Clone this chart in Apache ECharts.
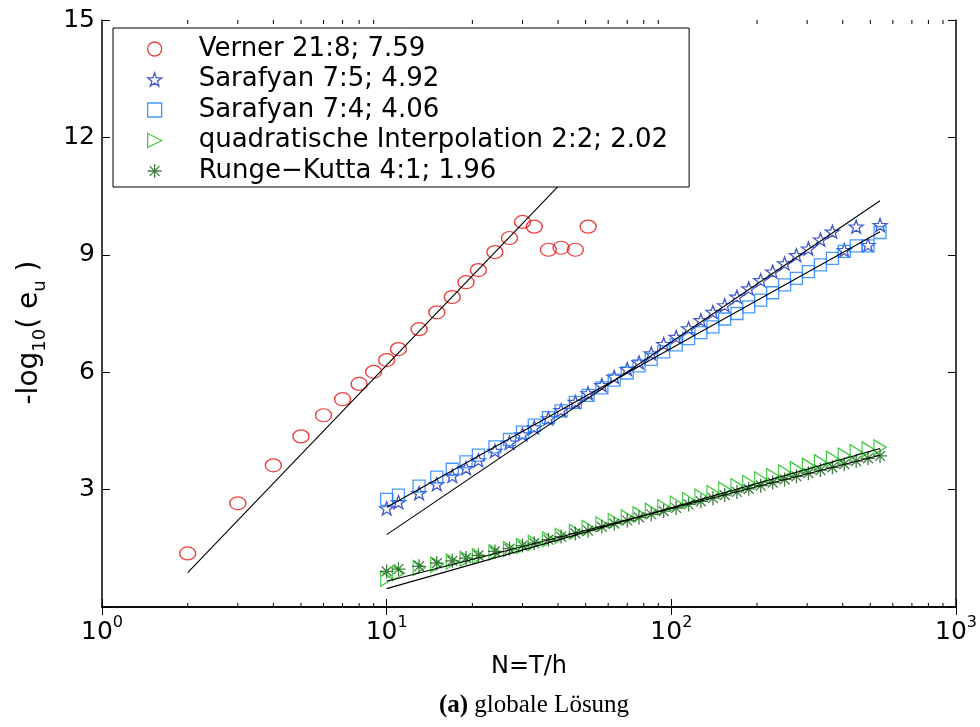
<!DOCTYPE html>
<html>
<head>
<meta charset="utf-8">
<script src="https://cdn.jsdelivr.net/npm/echarts@6/dist/echarts.min.js"></script>
<style>
  html, body { margin: 0; padding: 0; background: #fff; }
  #main { width: 980px; height: 727px; }
</style>
</head>
<body>
<div id="main"></div>
<script>
// Schrittzahlen N = T/h
var nVerner = [2, 3, 4, 5, 6, 7, 8, 9, 10, 11, 13, 15, 17, 19, 21, 24, 27, 30, 33, 37, 41, 46, 51];
var nSteps = [10, 11, 13, 15, 17, 19, 21, 24, 27, 30, 33, 37, 41, 46, 51, 57, 63, 70, 77, 85,
  94, 104, 115, 127, 140, 154, 170, 187, 206, 227, 250, 275, 303, 334, 368, 405, 446, 491, 541];

// -log10(e_u)
var eVerner = [1.37, 2.65, 3.62, 4.36, 4.90, 5.31, 5.70, 6.01, 6.31, 6.59, 7.10, 7.53, 7.92, 8.30,
  8.61, 9.07, 9.43, 9.84, 9.72, 9.13, 9.18, 9.13, 9.72];
var eSaraf75 = [2.52, 2.68, 2.91, 3.14, 3.35, 3.55, 3.75, 3.99, 4.20, 4.41, 4.59, 4.82, 5.03, 5.24,
  5.46, 5.67, 5.88, 6.08, 6.25, 6.48, 6.72, 6.90, 7.12, 7.33, 7.54, 7.71, 7.93, 8.14, 8.35, 8.57,
  8.78, 8.99, 9.16, 9.39, 9.59, 9.12, 9.72, 9.25, 9.76];
var eSaraf74 = [2.75, 2.86, 3.09, 3.32, 3.52, 3.71, 3.88, 4.09, 4.28, 4.47, 4.65, 4.84, 5.01, 5.23,
  5.41, 5.60, 5.80, 5.98, 6.16, 6.33, 6.52, 6.70, 6.86, 7.01, 7.16, 7.36, 7.50, 7.67, 7.84, 8.03,
  8.23, 8.40, 8.57, 8.74, 8.91, 9.09, 9.23, 9.23, 9.57];
var eQuad = [0.72, 0.86, 1.00, 1.08, 1.16, 1.23, 1.30, 1.40, 1.48, 1.56, 1.64, 1.73, 1.82, 1.92,
  2.02, 2.11, 2.20, 2.29, 2.37, 2.46, 2.55, 2.64, 2.73, 2.82, 2.91, 3.00, 3.09, 3.17, 3.26, 3.35,
  3.44, 3.52, 3.61, 3.70, 3.79, 3.87, 3.96, 4.03, 4.08];
var eRK4 = [0.91, 0.97, 1.04, 1.12, 1.18, 1.25, 1.32, 1.42, 1.49, 1.57, 1.63, 1.72, 1.80, 1.88,
  1.95, 2.05, 2.13, 2.21, 2.29, 2.37, 2.45, 2.53, 2.62, 2.70, 2.78, 2.86, 2.94, 3.02, 3.10, 3.18,
  3.26, 3.34, 3.42, 3.50, 3.57, 3.65, 3.73, 3.80, 3.86];

// Ausgleichsgeraden (Anfangs- und Endpunkt)
var fitVerner = [[2, 0.88], [51, 11.55]];
var fitSaraf75 = [[10, 1.85], [541, 10.38]];
var fitSaraf74 = [[10, 2.55], [541, 9.59]];
var fitQuad = [[10, 0.47], [541, 4.05]];
var fitRK4 = [[10, 0.66], [541, 3.88]];

var names = ['Verner 21:8; 7.59', 'Sarafyan 7:5; 4.92', 'Sarafyan 7:4; 4.06',
  'quadratische Interpolation 2:2; 2.02', 'Runge\u2212Kutta 4:1; 1.96'];
var minorTicks = [2, 3, 4, 5, 6, 7, 8, 9, 20, 30, 40, 50, 60, 70, 80, 90, 200, 300, 400, 500, 600, 700, 800, 900];

function zip(xs, ys) {
  return xs.map(function (x, i) { return [x, ys[i]]; });
}

var ellipse = 'path://M-1,0 A1,1 0 1,0 1,0 A1,1 0 1,0 -1,0 Z';
var star = 'path://M0,-10 L2.35,-3.24 L9.51,-3.09 L3.8,1.24 L5.88,8.09 L0,4 L-5.88,8.09 L-3.8,1.24 L-9.51,-3.09 L-2.35,-3.24 Z';
var square = 'path://M0,0 L1,0 L1,1 L0,1 Z';
var triRight = 'path://M0,0 L1,0.5 L0,1 Z';
var asterisk = 'path://M0,-1 L0,1 M-1,0 L1,0 M-0.7,-0.7 L0.7,0.7 M-0.7,0.7 L0.7,-0.7';

function marks(name, data, symbol, size, color) {
  return {
    name: name, type: 'scatter', data: data, symbol: symbol, symbolSize: size,
    itemStyle: { color: 'transparent', borderColor: color, borderWidth: 1.3 },
    z: 2, silent: true
  };
}
function fit(data) {
  return {
    type: 'line', data: data, symbol: 'none', z: 3, silent: true,
    lineStyle: { color: '#000', width: 1.1 }
  };
}

var chart = echarts.init(document.getElementById('main'));
var font = 'DejaVu Sans';

var option = {
  animation: false,
  textStyle: { fontFamily: font, color: '#000' },
  title: {
    text: '{b|(a)} globale L\u00f6sung',
    left: 529, top: 688, textAlign: 'center',
    textStyle: {
      fontFamily: 'Liberation Serif', fontSize: 25, fontWeight: 'normal', color: '#000',
      rich: { b: { fontFamily: 'Liberation Serif', fontSize: 25, fontWeight: 'bold', color: '#000' } }
    }
  },
  grid: { left: 102, right: 24, top: 20, bottom: 120, outerBoundsMode: 'none' },
  legend: {
    orient: 'vertical', left: 113, top: 28,
    data: names, selectedMode: false,
    backgroundColor: '#fff', borderColor: '#000', borderWidth: 1, borderRadius: 0,
    padding: [6, 21, 1, 34], itemWidth: 14, itemHeight: 14, itemGap: 0.5,
    itemStyle: { borderWidth: 1.3 },
    textStyle: { fontFamily: font, fontSize: 26, lineHeight: 30, color: '#000', padding: [0, 0, 0, 32] },
    z: 10
  },
  xAxis: [{
    type: 'log', logBase: 10, min: 1, max: 1000,
    name: 'N=T/h', nameLocation: 'middle', nameGap: 48,
    nameTextStyle: { fontFamily: font, fontSize: 24, color: '#000' },
    axisLine: { lineStyle: { color: '#000', width: 1.5 } },
    axisTick: { inside: true, length: 8, lineStyle: { color: '#000' } },
    splitLine: { show: false },
    axisLabel: {
      margin: 8, showMinLabel: true, showMaxLabel: true,
      formatter: function (v) { return '{t|10}{s|' + Math.round(Math.log10(v)) + '}'; },
      rich: {
        t: { fontFamily: font, fontSize: 25, lineHeight: 30, verticalAlign: 'bottom', color: '#000' },
        s: { fontFamily: font, fontSize: 16, lineHeight: 16, verticalAlign: 'top', color: '#000' }
      }
    }
  }, {
    type: 'log', logBase: 10, min: 1, max: 1000, position: 'top',
    axisLine: { lineStyle: { color: '#000', width: 1.5 } },
    axisTick: { inside: true, length: 8, lineStyle: { color: '#000' } },
    axisLabel: { show: false }, splitLine: { show: false }
  }],
  yAxis: [{
    type: 'value', min: 0, max: 15, interval: 3,
    name: '{t|-log}{s|10}{t|( e}{s|u}{t| )}', nameLocation: 'middle', nameRotate: 90, nameGap: 56,
    nameTextStyle: {
      fontFamily: font, fontSize: 28, color: '#000', padding: [0, 38, 0, 0],
      rich: {
        t: { fontFamily: font, fontSize: 28, lineHeight: 30, verticalAlign: 'top', color: '#000' },
        s: { fontFamily: font, fontSize: 18, lineHeight: 18, padding: [15, 0, 0, 0], verticalAlign: 'top', color: '#000' }
      }
    },
    axisLine: { lineStyle: { color: '#000', width: 1.5 } },
    axisTick: { inside: true, length: 8, lineStyle: { color: '#000' } },
    splitLine: { show: false },
    axisLabel: {
      margin: 7, fontFamily: font, fontSize: 25, color: '#000',
      formatter: function (v) { return v === 0 ? '' : String(v); }
    }
  }, {
    type: 'value', min: 0, max: 15, interval: 3, position: 'right',
    axisLine: { lineStyle: { color: '#000', width: 1.5 } },
    axisTick: { inside: true, length: 8, lineStyle: { color: '#000' } },
    axisLabel: { show: false }, splitLine: { show: false }
  }],
  series: [
    marks(names[0], zip(nVerner, eVerner), ellipse, [16, 13], '#e81010'),
    marks(names[1], zip(nSteps, eSaraf75), star, [14, 13], '#1630c0'),
    marks(names[2], zip(nSteps, eSaraf74), square, 12, '#1a80ff'),
    marks(names[3], zip(nSteps, eQuad), triRight, [12, 15], '#18bb18'),
    marks(names[4], zip(nSteps, eRK4), asterisk, [14, 14], '#0c600c'),
    fit(fitVerner), fit(fitSaraf75), fit(fitSaraf74), fit(fitQuad), fit(fitRK4)
  ]
};
chart.setOption(option);

// kleine Teilstriche der log-Achse (unten und oben)
var yBot = chart.convertToPixel({ yAxisIndex: 0 }, 0);
var yTop = chart.convertToPixel({ yAxisIndex: 0 }, 15);
var ticks = [];
minorTicks.forEach(function (v) {
  var x = chart.convertToPixel({ xAxisIndex: 0 }, v);
  ticks.push({ type: 'line', silent: true, z: 5, shape: { x1: x, y1: yBot, x2: x, y2: yBot - 4 }, style: { stroke: '#000', lineWidth: 1 } });
  ticks.push({ type: 'line', silent: true, z: 5, shape: { x1: x, y1: yTop, x2: x, y2: yTop + 4 }, style: { stroke: '#000', lineWidth: 1 } });
});
chart.setOption({ graphic: ticks });
</script>
</body>
</html>
